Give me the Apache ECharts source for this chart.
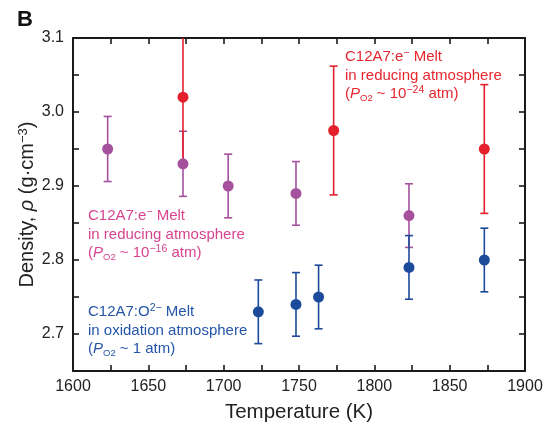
<!DOCTYPE html>
<html>
<head>
<meta charset="utf-8">
<title>Density vs temperature</title>
<script src="https://cdn.jsdelivr.net/npm/echarts@6/dist/echarts.min.js"></script>
<style>
  html, body { margin: 0; padding: 0; background: #fff; }
  #main { width: 545px; height: 423px; }
</style>
</head>
<body>
<div id="main"></div>
<script>
// C12A7:e- melt, P_O2 ~ 1e-24 atm (red)
var redT = [1673, 1773, 1873];
var redRho = [3.02, 2.975, 2.95];
var redErr = [0.087, 0.087, 0.087];

// C12A7:e- melt, P_O2 ~ 1e-16 atm (purple)
var purpleT = [1623, 1673, 1703, 1748, 1823];
var purpleRho = [2.95, 2.93, 2.90, 2.89, 2.86];
var purpleErr = [0.044, 0.044, 0.043, 0.043, 0.043];

// C12A7:O2- melt, P_O2 ~ 1 atm (blue)
var blueT = [1723, 1748, 1763, 1823, 1873];
var blueRho = [2.73, 2.74, 2.75, 2.79, 2.80];
var blueErr = [0.043, 0.043, 0.043, 0.043, 0.043];

var xTicks = [1600, 1650, 1700, 1750, 1800, 1850, 1900];
var yTicks = [2.7, 2.8, 2.9, 3.0, 3.1];

var FONT = '"Liberation Sans", Arial, Helvetica, sans-serif';
var RED = '#e3202b', PURPLE = '#a5519e', BLUE = '#1d4b9b';

function points(t, r) {
    return t.map(function (v, i) { return [v, r[i]]; });
}
function bars(t, r, e) {
    return t.map(function (v, i) { return [v, r[i] - e[i], r[i] + e[i]]; });
}

function errorBars(name, color, data) {
    return {
        name: name,
        type: 'custom',
        clip: true,
        z: 2,
        data: data,
        renderItem: function (params, api) {
            var lo = api.coord([api.value(0), api.value(1)]);
            var hi = api.coord([api.value(0), api.value(2)]);
            var w = 4;
            var style = { stroke: color, lineWidth: 1.6 };
            return {
                type: 'group',
                children: [
                    { type: 'line', shape: { x1: lo[0], y1: lo[1], x2: hi[0], y2: hi[1] }, style: style },
                    { type: 'line', shape: { x1: lo[0] - w, y1: lo[1], x2: lo[0] + w, y2: lo[1] }, style: style },
                    { type: 'line', shape: { x1: hi[0] - w, y1: hi[1], x2: hi[0] + w, y2: hi[1] }, style: style }
                ]
            };
        }
    };
}

function dots(name, color, data) {
    return {
        name: name,
        type: 'scatter',
        z: 3,
        symbolSize: 11,
        itemStyle: { color: color, opacity: 1 },
        data: data
    };
}

var axisLine = { show: true, lineStyle: { color: '#1a1a1a', width: 2 } };
var tickStyle = { show: true, inside: true, length: 6, lineStyle: { color: '#1a1a1a', width: 1.6 } };

function xAxis(pos, labels) {
    return {
        type: 'value', position: pos, min: 1600, max: 1900, interval: 25,
        axisLine: axisLine, axisTick: tickStyle, splitLine: { show: false },
        name: labels ? 'Temperature (K)' : '', nameLocation: 'middle', nameGap: 31,
        nameMoveOverlap: false,
        nameTextStyle: { fontFamily: FONT, fontSize: 20.5, color: '#222' },
        axisLabel: {
            show: labels, margin: 8, fontFamily: FONT, fontSize: 16, color: '#222',
            formatter: function (v) { return xTicks.indexOf(v) >= 0 ? String(v) : ''; }
        }
    };
}

function yAxis(pos, labels) {
    return {
        type: 'value', position: pos, min: 2.65, max: 3.1, interval: 0.05,
        axisLine: axisLine, axisTick: tickStyle, splitLine: { show: false },
        name: labels ? '{n|Density, }{i|\u03c1}{n| (g\u00b7cm}{s|\u22123}{n|)}' : '',
        nameLocation: 'middle', nameGap: 35, nameRotate: 90, nameMoveOverlap: false,
        nameTextStyle: {
            fontFamily: FONT, fontSize: 20, color: '#222',
            rich: {
                n: { fontFamily: FONT, fontSize: 20, color: '#222' },
                i: { fontFamily: FONT, fontSize: 20, color: '#222', fontStyle: 'italic' },
                s: { fontFamily: FONT, fontSize: 13, color: '#222', verticalAlign: 'top', padding: [0, 0, 8, 0] }
            }
        },
        axisLabel: {
            show: labels, margin: 9, fontFamily: FONT, fontSize: 16, color: '#222',
            formatter: function (v) {
                var hit = yTicks.some(function (t) { return Math.abs(t - v) < 1e-6; });
                return hit ? v.toFixed(1) : '';
            }
        }
    };
}

function note(x, y, color, lines) {
    return {
        type: 'text', left: x, top: y, z: 10,
        style: {
            text: lines.join('\n'),
            fill: color,
            font: '15px ' + FONT,
            lineHeight: 18.5,
            rich: {
                t: { fill: color, fontSize: 15, fontFamily: FONT, lineHeight: 18.5 },
                i: { fill: color, fontSize: 15, fontFamily: FONT, fontStyle: 'italic', lineHeight: 18.5 },
                sub: { fill: color, fontSize: 9.5, fontFamily: FONT, verticalAlign: 'bottom', lineHeight: 18.5, padding: [6, 0, 0, 0] },
                sup: { fill: color, fontSize: 10.5, fontFamily: FONT, verticalAlign: 'top', lineHeight: 18.5, padding: [0, 0, 7, 0] }
            }
        }
    };
}

var chart = echarts.init(document.getElementById('main'), null, { renderer: 'canvas' });

chart.setOption({
    animation: false,
    backgroundColor: '#fff',
    textStyle: { fontFamily: FONT },
    grid: { left: 73, right: 20, top: 38, bottom: 52, containLabel: false, outerBoundsMode: 'none' },
    xAxis: [xAxis('bottom', true), xAxis('top', false)],
    yAxis: [yAxis('left', true), yAxis('right', false)],
    graphic: [
        { type: 'text', left: 17, top: 9, style: { text: 'B', font: 'bold 22px ' + FONT, fill: '#111' } },
        note(345, 48, '#e5262e', [
            '{t|C12A7:e}{sup|\u2212}{t| Melt}',
            '{t|in reducing atmosphere}',
            '{t|(}{i|P}{sub|O2}{t| ~ 10}{sup|\u221224}{t| atm)}'
        ]),
        note(88, 207, '#d8438f', [
            '{t|C12A7:e}{sup|\u2212}{t| Melt}',
            '{t|in reducing atmosphere}',
            '{t|(}{i|P}{sub|O2}{t| ~ 10}{sup|\u221216}{t| atm)}'
        ]),
        note(88, 303, '#2455a8', [
            '{t|C12A7:O}{sup|2\u2212}{t| Melt}',
            '{t|in oxidation atmosphere}',
            '{t|(}{i|P}{sub|O2}{t| ~ 1 atm)}'
        ])
    ],
    series: [
        errorBars('purple err', PURPLE, bars(purpleT, purpleRho, purpleErr)),
        errorBars('blue err', BLUE, bars(blueT, blueRho, blueErr)),
        errorBars('red err', RED, bars(redT, redRho, redErr)),
        dots('purple', PURPLE, points(purpleT, purpleRho)),
        dots('blue', BLUE, points(blueT, blueRho)),
        dots('red', RED, points(redT, redRho))
    ]
});
</script>
</body>
</html>
